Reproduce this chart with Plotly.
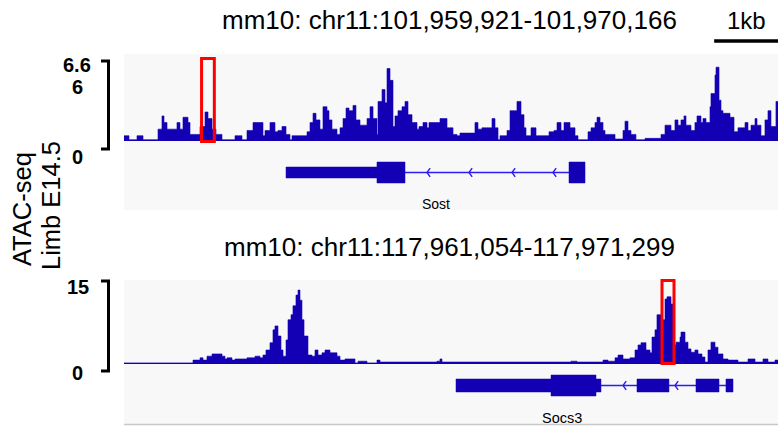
import plotly.graph_objects as go

W, H = 778, 427

# ---------------- data ----------------
top_region = "mm10: chr11:101,959,921-101,970,166"
bottom_region = "mm10: chr11:117,961,054-117,971,299"
scale_label = "1kb"
track_title = ["ATAC-seq", "Limb E14.5"]
window_bp = 10245          # both windows are 10,245 bp wide
scale_bar_bp = 1000

# ATAC-seq signal, top locus (step starts in bp from window start, value)
top_starts = [0, 78, 204, 298, 533, 595, 627, 674, 830, 877,
              924, 1003, 1034, 1191, 1269, 1316, 1379, 1441, 1535, 1739,
              1848, 1927, 2021, 2130, 2177, 2209, 2287, 2365, 2412, 2475,
              2538, 2600, 2632, 2867, 2914, 2961, 3008, 3070, 3117, 3180,
              3211, 3258, 3337, 3384, 3431, 3478, 3525, 3587, 3634, 3697,
              3807, 3854, 3901, 3963, 3979, 4042, 4089, 4120, 4167, 4214,
              4245, 4292, 4355, 4402, 4449, 4512, 4590, 4621, 4684, 4747,
              4778, 4950, 5060, 5154, 5216, 5263, 5498, 5545, 5608, 5765,
              5812, 5859, 5890, 6000, 6047, 6156, 6219, 6266, 6297, 6376,
              6454, 6658, 6736, 6783, 6846, 6893, 6987, 7065, 7112, 7269,
              7316, 7378, 7410, 7457, 7504, 7535, 7692, 7817, 7848, 7895,
              7942, 8020, 8162, 8412, 8475, 8569, 8631, 8678, 8725, 8772,
              8804, 8882, 8944, 8976, 9039, 9070, 9117, 9180, 9195, 9258,
              9274, 9321, 9352, 9383, 9493, 9556, 9618, 9728, 9775, 9822,
              9885, 9916, 9978, 10041, 10088, 10135, 10213]
top_values = [0.4, 0.1, 0.4, 0.1, 0.9, 1.9, 1.4, 0.9, 1.4, 0.9,
              1.8, 1.4, 0.5, 1.1, 2.2, 1.7, 0.9, 0.5, 0.1, 0.4,
              0.1, 0.8, 1.4, 1.4, 0.4, 0.8, 1.4, 0.7, 0.8, 1.1,
              0.5, 0.1, 0.4, 0.7, 1.4, 2.1, 1.6, 0.9, 2.6, 2.3,
              1.6, 0.9, 0.5, 1.0, 1.7, 2.5, 2.3, 2.7, 1.6, 1.2,
              1.7, 2.6, 1.7, 0.5, 3.0, 3.9, 2.9, 5.5, 4.6, 1.1,
              1.9, 2.3, 2.6, 3.0, 2.0, 1.4, 0.9, 1.1, 1.4, 1.0,
              1.4, 1.7, 1.0, 0.5, 0.4, 0.6, 1.4, 0.9, 1.0, 1.7,
              1.0, 0.1, 0.4, 0.8, 2.3, 3.0, 2.0, 1.0, 0.4, 1.0,
              0.4, 0.7, 0.8, 1.4, 0.8, 1.4, 1.0, 0.4, 0.1, 0.7,
              1.0, 1.4, 1.8, 1.4, 0.8, 0.5, 0.15, 0.8, 1.5, 0.8,
              0.5, 0.1, 0.2, 0.5, 1.2, 0.8, 1.6, 1.2, 1.6, 1.9,
              1.2, 0.8, 1.4, 1.9, 1.4, 1.7, 1.4, 2.6, 3.6, 5.0,
              5.6, 3.1, 2.3, 2.1, 1.8, 0.7, 1.0, 1.4, 0.8, 1.2,
              1.7, 1.2, 0.4, 1.6, 2.3, 1.1, 3.0]

# ATAC-seq signal, bottom locus
bottom_starts = [0, 1081, 1191, 1238, 1300, 1379, 1535, 1582, 1614, 1692,
                 1739, 1927, 2052, 2130, 2177, 2224, 2287, 2334, 2365, 2412,
                 2459, 2491, 2538, 2569, 2616, 2647, 2694, 2726, 2757, 2788,
                 2820, 2882, 2945, 2992, 3039, 3102, 3149, 3227, 3337, 3384,
                 3462, 3619, 3666, 3807, 3963, 4010, 4903, 4950, 4981, 7002,
                 7096, 7504, 7582, 7692, 7739, 7817, 7926, 8005, 8052, 8099,
                 8177, 8240, 8271, 8318, 8349, 8412, 8475, 8506, 8569, 8600,
                 8647, 8710, 8725, 8788, 8835, 8882, 8944, 8992, 9054, 9101,
                 9148, 9195, 9258, 9305, 9383, 9462, 9618, 9775, 9885, 10010,
                 10088, 10198]
bottom_values = [0.2, 0.7, 1.1, 0.7, 1.4, 1.8, 1.4, 0.9, 1.1, 0.7,
                 0.9, 1.1, 1.4, 1.1, 1.6, 2.5, 3.8, 6.1, 6.8, 5.0,
                 2.5, 1.4, 4.3, 7.9, 8.8, 10.4, 12.3, 13.2, 11.4, 7.9,
                 5.0, 1.6, 1.4, 2.5, 1.6, 2.0, 2.5, 2.0, 1.4, 0.7,
                 0.9, 0.2, 0.5, 0.2, 0.7, 0.35, 0.5, 0.9, 0.35, 0.5,
                 0.35, 0.7, 0.5, 1.1, 1.6, 0.9, 1.1, 2.5, 3.4, 3.8,
                 2.5, 2.0, 4.8, 6.1, 8.8, 7.9, 11.6, 12.0, 10.7, 3.4,
                 3.9, 4.8, 5.7, 3.9, 2.7, 2.1, 2.5, 1.8, 1.25, 0.35,
                 2.5, 3.9, 3.0, 1.8, 0.9, 0.7, 0.35, 0.9, 0.35, 0.9,
                 0.35, 0.7]

top_ticks = ["6.6", "6", "0"]
top_max = 6.6
bottom_ticks = ["15", "0"]
bottom_max = 15

# gene models (bp from window start)
sost_name = "Sost"
sost_utr = [(2538, 3963)]
sost_cds = [(3963, 4402), (6971, 7222)]
sost_introns = [(4402, 6971)]
sost_arrows = [4746, 5404, 6078, 6720]

socs3_name = "Socs3"
socs3_utr = [(5201, 6689), (7394, 7472), (8036, 8537), (8960, 9321), (9430, 9540)]
socs3_cds = [(6689, 7394)]
socs3_introns = [(7472, 8036), (8537, 8960), (9321, 9430)]
socs3_arrows = [7817, 8631]
socs3_inner_arrow = [7360]

# highlighted peaks (bp)
top_highlight = (1215, 1415)
bottom_highlight = (8428, 8616)

# ---------------- style ----------------
BLUE = "#1400b4"
INTRON = "#2a1cf5"
RED = "#ff0000"
PANEL = "#f8f8f8"
FONT = "Liberation Sans, Arial, sans-serif"


def px(x):
    return x / W


def py(y):
    return 1 - y / H


def steps(starts, values, end):
    return list(starts) + [end], list(values) + [values[-1]]


fig = go.Figure()

# panel backgrounds
fig.add_shape(type="rect", xref="paper", yref="paper", x0=px(124), x1=1, y0=py(210), y1=py(54),
              fillcolor=PANEL, line=dict(width=0), layer="below")
fig.add_shape(type="rect", xref="paper", yref="paper", x0=px(124), x1=1, y0=py(424), y1=py(280),
              fillcolor=PANEL, line=dict(width=0), layer="below")
fig.add_shape(type="line", xref="paper", yref="paper", x0=px(124), x1=1, y0=py(424.5), y1=py(424.5),
              line=dict(color="#c8c8c8", width=1.5))

# signal tracks
for starts, vals, xa, ya in [(top_starts, top_values, "x", "y"),
                             (bottom_starts, bottom_values, "x2", "y3")]:
    xs, ys = steps(starts, vals, window_bp)
    fig.add_trace(go.Scatter(x=xs, y=ys, mode="lines", xaxis=xa, yaxis=ya,
                             line=dict(shape="hv", color=BLUE, width=0.6),
                             fill="tozeroy", fillcolor=BLUE, hoverinfo="skip"))


def chevrons(positions, dx=50, a=0.22):
    xs, ys = [], []
    for p in positions:
        xs += [p + dx, p, p + dx, None]
        ys += [a, 0, -a, None]
    return xs, ys


def add_gene(utr, cds, introns, arrows, xa, ya, utr_h, cds_h):
    for s, e in introns:
        fig.add_trace(go.Scatter(x=[s, e], y=[0, 0], mode="lines", xaxis=xa, yaxis=ya,
                                 line=dict(color=INTRON, width=1.4), hoverinfo="skip"))
    cx, cy = chevrons(arrows)
    fig.add_trace(go.Scatter(x=cx, y=cy, mode="lines", xaxis=xa, yaxis=ya,
                             line=dict(color=INTRON, width=1.4), hoverinfo="skip"))
    for s, e in utr:
        fig.add_shape(type="rect", xref=xa, yref=ya, x0=s, x1=e, y0=-utr_h, y1=utr_h,
                      fillcolor=BLUE, line=dict(color=BLUE, width=0.5))
    for s, e in cds:
        fig.add_shape(type="rect", xref=xa, yref=ya, x0=s, x1=e, y0=-cds_h, y1=cds_h,
                      fillcolor=BLUE, line=dict(color=BLUE, width=0.5))


add_gene(sost_utr, sost_cds, sost_introns, sost_arrows, "x", "y2", 0.275, 0.525)
add_gene(socs3_utr, socs3_cds, socs3_introns, socs3_arrows, "x2", "y4", 0.325, 0.525)
wx, wy = chevrons(socs3_inner_arrow, dx=35, a=0.17)
fig.add_trace(go.Scatter(x=wx, y=wy, mode="lines", xaxis="x2", yaxis="y4",
                         line=dict(color="white", width=1.6), hoverinfo="skip"))

# highlight boxes
fig.add_shape(type="rect", xref="x", yref="paper", x0=top_highlight[0], x1=top_highlight[1],
              y0=py(141.5), y1=py(58.5), line=dict(color=RED, width=3), fillcolor="rgba(0,0,0,0)")
fig.add_shape(type="rect", xref="x2", yref="paper", x0=bottom_highlight[0], x1=bottom_highlight[1],
              y0=py(363.5), y1=py(280.5), line=dict(color=RED, width=3), fillcolor="rgba(0,0,0,0)")

# scale bar (1 kb) at the right end of the top window
fig.add_shape(type="line", xref="x", yref="paper", x0=window_bp - scale_bar_bp, x1=window_bp,
              y0=py(41), y1=py(41), line=dict(color="black", width=3.5))

# data-range brackets
for top, bot in [(61, 149), (281, 371)]:
    fig.add_shape(type="path", xref="paper", yref="paper",
                  path=f"M {px(101)},{py(top)} L {px(108.5)},{py(top)} L {px(108.5)},{py(bot)} L {px(101)},{py(bot)}",
                  line=dict(color="black", width=3))

ann = []


def text(t, x, y, size, bold=False, angle=0):
    ann.append(dict(text=f"<b>{t}</b>" if bold else t, x=px(x), y=py(y), xref="paper", yref="paper",
                    showarrow=False, xanchor="center", yanchor="middle", textangle=angle,
                    font=dict(family=FONT, size=size, color="black")))


text(top_region, 449, 20.5, 26)
text(bottom_region, 449, 246.5, 26)
text(scale_label, 746.5, 20.5, 24)
text(track_title[0], 22, 209, 25.5, angle=-90)
text(track_title[1], 51, 206, 25.5, angle=-90)
text(top_ticks[0], 76.5, 64.5, 20, bold=True)
text(top_ticks[1], 77, 87, 20, bold=True)
text(top_ticks[2], 77, 157, 20, bold=True)
text(bottom_ticks[0], 78, 287, 20, bold=True)
text(bottom_ticks[1], 77, 372.5, 20, bold=True)
text(sost_name, 436, 204, 14)
text(socs3_name, 562, 418, 14.5)

ax = dict(visible=False, fixedrange=True)
fig.update_layout(
    width=W, height=H, margin=dict(l=0, r=0, t=0, b=0),
    paper_bgcolor="white", plot_bgcolor="rgba(0,0,0,0)", showlegend=False,
    annotations=ann,
    xaxis=dict(domain=[px(124), 1], range=[0, window_bp], anchor="y", **ax),
    yaxis=dict(domain=[py(141), py(54)], range=[0, top_max], anchor="x", **ax),
    yaxis2=dict(domain=[py(192.5), py(152.5)], range=[-1, 1], anchor="x", **ax),
    xaxis2=dict(domain=[px(124), 1], range=[0, window_bp], anchor="y3", **ax),
    yaxis3=dict(domain=[py(364), py(280)], range=[0, bottom_max], anchor="x2", **ax),
    yaxis4=dict(domain=[py(405.5), py(365.5)], range=[-1, 1], anchor="x2", **ax),
)

fig.write_html("out.html", config={"displayModeBar": False},
               post_script="document.body.style.margin='0';document.body.style.overflow='hidden';")
